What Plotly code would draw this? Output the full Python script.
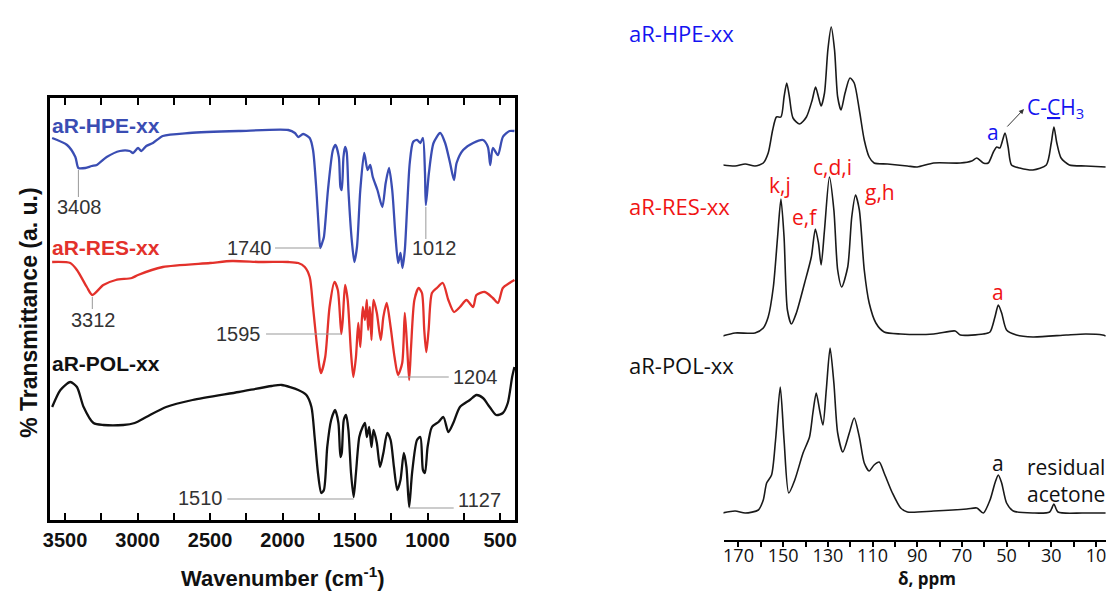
import plotly.graph_objects as go

W, H = 1114, 591

# ---------------- FTIR spectra (wavenumber, cm-1 ; stacked transmittance, a.u.) ----------------
hpe_wn = [3589, 3486, 3429, 3408, 3360, 3316, 3281, 3213, 3122, 3054, 3031, 2997, 2974, 2940, 2894,
          2826, 2644, 2302, 1961, 1915, 1892, 1858, 1813, 1790, 1767, 1750, 1740, 1725, 1715, 1687,
          1653, 1635, 1612, 1601, 1592, 1580, 1569, 1558, 1546, 1523, 1505, 1487, 1464, 1437, 1414,
          1396, 1378, 1346, 1312, 1289, 1266, 1244, 1221, 1203, 1187, 1173, 1157, 1141, 1123, 1100,
          1073, 1050, 1032, 1018, 1012, 991, 959, 913, 879, 845, 818, 800, 755, 686, 618,
          584, 568, 550, 515, 481, 435, 401]
hpe_t = [382, 375, 363, 352, 352, 354, 355, 363, 369, 369, 367, 372, 369, 374, 377,
         384, 387, 389, 390, 387, 383, 386, 382, 370, 330, 290, 272, 278, 283, 330,
         370, 375, 363, 333, 330, 363, 373, 368, 330, 280, 258, 273, 330, 367, 350,
         355, 343, 330, 313, 337, 352, 330, 283, 257, 267, 252, 270, 313, 357, 378,
         380, 377, 382, 347, 315, 347, 377, 387, 377, 357, 340, 357, 370, 377, 380,
         373, 355, 372, 365, 383, 389, 389]

res_wn = [3589, 3464, 3418, 3350, 3312, 3236, 3150, 3040, 2997, 2826, 2500, 2348, 2150, 1961, 1892,
          1847, 1813, 1790, 1767, 1744, 1735, 1706, 1676, 1642, 1619, 1595, 1585, 1569, 1551, 1528,
          1512, 1494, 1478, 1464, 1447, 1432, 1419, 1410, 1398, 1387, 1373, 1350, 1323, 1305, 1282,
          1255, 1228, 1204, 1175, 1157, 1141, 1127, 1114, 1091, 1062, 1039, 1023, 1009, 993, 970,
          936, 895, 857, 818, 777, 732, 686, 663, 606, 550, 515, 481, 435, 401]
res_t = [258, 257, 250, 233, 225, 235, 240, 242, 245, 253, 257, 259, 258, 258, 257,
         253, 243, 213, 180, 152, 147, 163, 213, 238, 230, 186, 200, 235, 220, 167,
         143, 163, 197, 173, 213, 200, 220, 190, 213, 180, 220, 207, 180, 203, 217,
         193, 163, 145, 157, 207, 173, 140, 173, 220, 232, 227, 190, 168, 190, 227,
         232, 237, 220, 208, 213, 220, 213, 225, 228, 222, 217, 232, 237, 240]

pol_wn = [3589, 3532, 3464, 3418, 3372, 3304, 3236, 3099, 3020, 2940, 2803, 2621, 2302, 2075, 2006,
          1892, 1836, 1801, 1779, 1756, 1733, 1715, 1692, 1665, 1638, 1615, 1601, 1592, 1578, 1562,
          1546, 1528, 1510, 1494, 1471, 1448, 1432, 1419, 1403, 1387, 1373, 1350, 1328, 1305, 1278,
          1255, 1232, 1209, 1187, 1164, 1146, 1127, 1107, 1073, 1050, 1032, 1018, 1000, 970, 925,
          891, 857, 823, 777, 709, 663, 618, 572, 527, 481, 447, 417, 401]
pol_t = [113, 130, 138, 133, 113, 97, 95, 95, 97, 103, 113, 120, 128, 134, 135,
         130, 125, 113, 83, 47, 27, 30, 73, 100, 110, 97, 63, 67, 100, 105,
         90, 47, 23, 47, 83, 93, 97, 83, 93, 73, 90, 77, 53, 67, 87,
         80, 53, 30, 40, 67, 53, 13, 47, 80, 83, 50, 47, 73, 93, 98,
         103, 88, 97, 113, 120, 125, 122, 113, 105, 107, 117, 143, 153]

wn_ticks = [3500, 3000, 2500, 2000, 1500, 1000, 500]

# ---------------- 13C NMR spectra (chemical shift, ppm ; stacked intensity, a.u.) ----------------
hpe_ppm = [177.1, 171.5, 167.0, 162.6, 158.9, 156.7, 154.7, 153.0, 151.0, 149.6, 148.4, 147.2, 145.6,
           142.6, 139.6, 137.0, 135.5, 134.2, 133.0, 131.5, 130.0, 128.5, 127.0, 125.6, 124.1, 122.3,
           120.1, 118.2, 115.9, 113.7, 111.5, 109.3, 103.3, 94.4, 90.0, 82.6, 70.7, 65.6, 63.3, 60.4,
           58.2, 55.9, 54.4, 53.0, 50.7, 49.3, 47.8, 44.1, 38.2, 32.2, 30.0, 28.8, 27.5, 25.6, 21.9,
           14.5, 5.6]
hpe_int = [375, 374, 376, 374, 377, 387, 410, 423, 423, 443, 457, 443, 422,
           416, 423, 440, 453, 443, 434, 447, 490, 513, 490, 443, 430, 447,
           462, 457, 430, 400, 383, 377, 376, 374, 373, 377, 377, 379, 382, 377,
           377, 388, 393, 392, 407, 393, 375, 372, 370, 375, 397, 413, 397, 382, 375,
           374, 373]

res_ppm = [177.1, 171.5, 162.6, 158.9, 156.7, 154.4, 152.5, 151.0, 149.6, 148.1, 146.3, 144.1, 140.4,
           137.4, 135.6, 134.2, 133.0, 131.5, 129.3, 127.3, 125.6, 123.8, 121.1, 119.3, 117.6, 115.9,
           113.7, 111.5, 108.5, 104.8, 97.4, 82.6, 73.0, 70.7, 60.4, 57.4, 55.2, 53.7, 52.2, 50.0,
           45.6, 38.2, 23.3, 14.5, 7.0, 5.6]
res_int = [204, 207, 207, 212, 223, 253, 303, 341, 303, 230, 216, 227, 257,
           283, 311, 297, 275, 310, 363, 330, 270, 253, 273, 323, 345, 330,
           270, 237, 217, 208, 206, 206, 209, 205, 206, 208, 223, 235, 227, 210,
           205, 203, 205, 206, 205, 204]

pol_ppm = [177.1, 171.5, 167.0, 161.1, 158.9, 157.4, 155.2, 153.4, 151.3, 149.6, 147.5, 144.8, 141.1,
           138.2, 136.7, 135.2, 133.7, 132.2, 130.7, 129.0, 127.3, 125.6, 123.3, 120.4, 118.2, 115.9,
           113.7, 111.5, 109.3, 107.0, 104.8, 101.1, 97.4, 94.4, 82.6, 67.8, 63.3, 60.4, 57.4, 55.2,
           53.7, 52.2, 50.0, 47.0, 38.2, 30.7, 28.8, 27.0, 15.9, 5.6]
pol_int = [27, 29, 27, 30, 40, 57, 65, 100, 153, 100, 47, 60, 87,
           103, 127, 147, 130, 115, 150, 192, 157, 107, 88, 107, 122, 103,
           77, 69, 75, 78, 67, 47, 32, 28, 29, 31, 32, 27, 40, 57,
           65, 57, 37, 29, 27, 28, 36, 28, 27, 27]

ppm_ticks = [170, 150, 130, 110, 90, 70, 50, 30, 10]

BLUE_IR, RED_IR, BLACK = "#3a4db3", "#e3312b", "#111111"
BLUE_TXT, RED_TXT = "#1414f0", "#f01414"
ARIAL = "Liberation Sans, Arial, sans-serif"
SANS = "Open Sans, Noto Sans, sans-serif"

fig = go.Figure()

for wn, t, col in [(hpe_wn, hpe_t, BLUE_IR), (res_wn, res_t, RED_IR), (pol_wn, pol_t, BLACK)]:
    fig.add_trace(go.Scatter(x=wn, y=t, mode="lines", xaxis="x", yaxis="y",
                             line=dict(color=col, width=2.3, shape="spline", smoothing=0.7),
                             showlegend=False, hoverinfo="skip"))

for ppm, inten in [(hpe_ppm, hpe_int), (res_ppm, res_int), (pol_ppm, pol_int)]:
    fig.add_trace(go.Scatter(x=ppm, y=inten, mode="lines", xaxis="x2", yaxis="y2",
                             line=dict(color="#1a1a1a", width=1.6, shape="spline", smoothing=0.7),
                             showlegend=False, hoverinfo="skip"))


def px(x):
    return x / W


def py(y):
    return 1 - y / H


layout = dict(
    width=W, height=H, margin=dict(l=0, r=0, t=0, b=0),
    paper_bgcolor="white", plot_bgcolor="white",
    xaxis=dict(domain=[px(43), px(512)], range=[3606, 395], anchor="y",
               tickvals=wn_ticks, ticks="inside", ticklen=7, tickwidth=2, tickcolor="black",
               minor=dict(dtick=250, ticks="inside", ticklen=7, tickwidth=2, tickcolor="black",
                          showgrid=False),
               showline=True, linewidth=2.5, linecolor="black", mirror="ticks",
               showgrid=False, zeroline=False, ticklabelstandoff=0,
               tickfont=dict(family=ARIAL, size=20, color="#111", weight="bold")),
    yaxis=dict(domain=[py(520), py(98)], range=[0, 422], anchor="x",
               showticklabels=False, ticks="", showline=True, linewidth=2.5,
               linecolor="black", mirror=True, showgrid=False, zeroline=False),
    xaxis2=dict(domain=[px(721.7), px(1106.7)], range=[176.7, 5.6], anchor="y2",
                tickvals=ppm_ticks, ticks="outside", ticklen=5, tickwidth=1.5, tickcolor="black",
                minor=dict(dtick=10, ticks="outside", ticklen=5, tickwidth=1.5, tickcolor="black",
                           showgrid=False),
                showline=True, linewidth=2, linecolor="black",
                showgrid=False, zeroline=False, ticklabelstandoff=-7,
                tickfont=dict(family=SANS, size=18, color="#111")),
    yaxis2=dict(domain=[py(540), 1], range=[0, 540], anchor="x2", visible=False),
)
fig.update_layout(**layout)

ann = []
# Axis titles
ann.append(dict(text="<b>Wavenumber (cm<sup>-1</sup>)</b>", x=px(278), y=py(577), xref="paper", yref="paper",
                xanchor="center", yanchor="middle",
                showarrow=False, font=dict(family=ARIAL, size=22, color="#111")))
ann.append(dict(text="<b>% Transmittance (a. u.)</b>", x=px(22), y=py(312), xref="paper", yref="paper",
                xanchor="center", yanchor="middle",
                showarrow=False, textangle=-90, font=dict(family=ARIAL, size=23, color="#111")))
ann.append(dict(text="<b>δ, ppm</b>", x=px(927), y=py(578), xref="paper", yref="paper",
                xanchor="center", yanchor="middle",
                showarrow=False, font=dict(family=SANS, size=17, color="#111")))

# FTIR sample names
for name, yy, col in [("aR-HPE-xx", 125, BLUE_IR), ("aR-RES-xx", 247, RED_IR), ("aR-POL-xx", 363, BLACK)]:
    ann.append(dict(text=f"<b>{name}</b>", x=px(43), y=py(yy), xref="paper", yref="paper",
                    xanchor="left", yanchor="middle", showarrow=False,
                    font=dict(family=ARIAL, size=21, color=col)))

# FTIR band labels with leader lines
band_labels = [("3408", 3401, 313, "center"), ("1740", 2060, 272, "right"), ("1012", 950, 272, "center"),
               ("3312", 3305, 200, "center"), ("1595", 2134, 186, "right"), ("1204", 840, 143, "left"),
               ("1510", 2394, 22, "right"), ("1127", 806, 20, "left")]
for txt, xx, yy, anc in band_labels:
    ann.append(dict(text=txt, x=xx, y=yy, xref="x", yref="y", xanchor=anc, yanchor="middle",
                    showarrow=False, font=dict(family=ARIAL, size=20, color="#333")))

leaders = [(3408, 350, 3408, 323), (2052, 272, 1740, 272), (1012, 313, 1012, 281),
           (3312, 223, 3312, 211), (2114, 186, 1595, 186), (1204, 143, 854, 143),
           (2381, 21, 1510, 21), (1127, 12, 820, 12)]
shapes = [dict(type="line", xref="x", yref="y", x0=a, y0=b, x1=c, y1=d,
               line=dict(color="#999999", width=1)) for a, b, c, d in leaders]

# NMR sample names
for name, yy, col in [("aR-HPE-xx", 33, BLUE_TXT), ("aR-RES-xx", 206, RED_TXT), ("aR-POL-xx", 365, "#111")]:
    ann.append(dict(text=name, x=px(624), y=py(yy), xref="paper", yref="paper", xanchor="left",
                    yanchor="middle", showarrow=False, font=dict(family=SANS, size=22, color=col)))

# NMR peak assignments
nmr_labels = [("a", 56.1, 408, BLUE_TXT, "center"), ("C-<u>C</u>H<sub>3</sub>", 41.6, 432, BLUE_TXT, "left"),
              ("k,j", 151.6, 355, RED_TXT, "center"), ("c,d,i", 128.1, 373, RED_TXT, "center"),
              ("e,f", 140.1, 323, RED_TXT, "center"), ("g,h", 106.8, 348, RED_TXT, "center"),
              ("a", 53.9, 248, RED_TXT, "center"), ("a", 53.9, 77, "#111", "center"),
              ("residual<br>acetone", 41.9, 60, "#111", "left")]
for txt, xx, yy, col, anc in nmr_labels:
    ann.append(dict(text=txt, x=xx, y=yy, xref="x2", yref="y2", xanchor=anc, yanchor="middle",
                    align="left", showarrow=False, font=dict(family=SANS, size=21, color=col)))

ann.append(dict(text="", x=42.2, y=431, xref="x2", yref="y2", ax=50.3, ay=412, axref="x2", ayref="y2",
                showarrow=True, arrowhead=2, arrowsize=1, arrowwidth=1, arrowcolor="#333"))

fig.update_layout(annotations=ann, shapes=shapes)
fig.write_html("out.html")
